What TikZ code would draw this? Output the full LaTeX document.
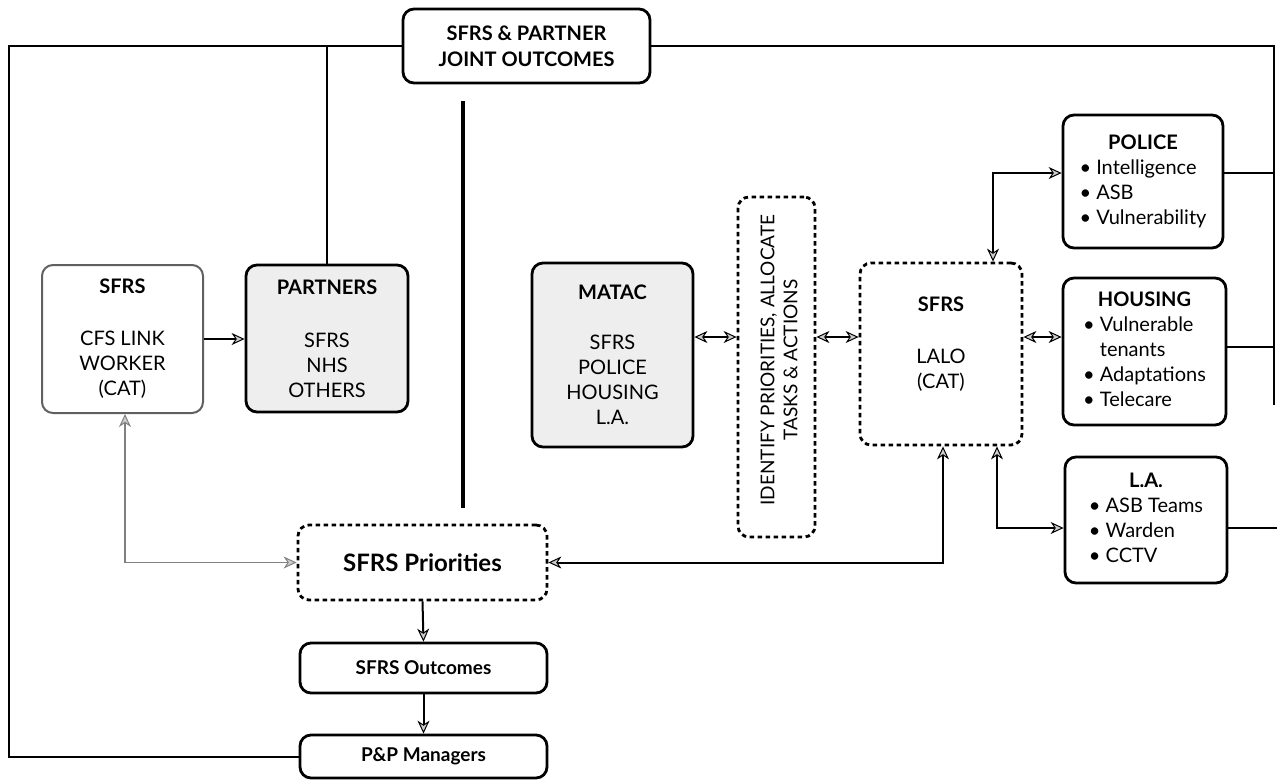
\documentclass[tikz,border=0pt]{standalone}
\usepackage{fontspec}
\setmainfont{Lato}
\usetikzlibrary{arrows.meta,calc}
\begin{document}
\begin{tikzpicture}[x=1pt,y=-1pt,
  >={Stealth[length=13pt,width=12pt,inset=4pt,fill=gray!40,line width=1pt]},
  box/.style={draw, line width=2.8pt, rounded corners=11pt, align=center, inner sep=0pt,
    font=\fontsize{20}{25}\selectfont},
  shadebox/.style={box, fill=gray!13},
  dotbox/.style={box, dash pattern=on 4.5pt off 3.5pt},
  conn/.style={line width=2pt},
  txt/.style={align=center, inner sep=0pt, font=\fontsize{20}{25}\selectfont}]
\useasboundingbox (0,0) rectangle (1277,780);

% nodes
\node[box, font=\fontsize{20}{26}\selectfont\bfseries, minimum width=247pt, minimum height=74pt] (joint) at (526.5,46) {SFRS \& PARTNER\\JOINT OUTCOMES};
\node[box, draw=gray!75!black, line width=2pt, minimum width=161pt, minimum height=148pt] (cfs) at (122.5,339)
  {\bfseries SFRS\\[27pt] CFS LINK\\ WORKER\\ (CAT)};
\node[shadebox, minimum width=162pt, minimum height=147pt] (partners) at (327,338.5)
  {\bfseries PARTNERS\\[28pt] SFRS\\ NHS\\ OTHERS};
\node[shadebox, minimum width=161pt, minimum height=184pt] (matac) at (612.5,355)
  {\bfseries MATAC\\[25pt] SFRS\\ POLICE\\ HOUSING\\ L.A.};
\node[dotbox, minimum width=77pt, minimum height=340pt] (idbox) at (776.5,367) {};
\node[txt, rotate=90, font=\fontsize{19}{23}\selectfont] (idtext) at (779,360) {IDENTIFY PRIORITIES, ALLOCATE\\TASKS \& ACTIONS};
\node[dotbox, minimum width=162pt, minimum height=182pt] (lalo) at (941,354) {};
\node[txt] (lalotext) at (941,344) {\bfseries SFRS\\[27pt] LALO\\ (CAT)};
\node[box, minimum width=160pt, minimum height=133pt] (police) at (1143,181.5)
  {\begin{tabular}{@{}l@{}}\multicolumn{1}{@{}c@{}}{\bfseries POLICE}\\ • Intelligence\\ • ASB\\ • Vulnerability\end{tabular}};
\node[box, minimum width=163pt, minimum height=147pt] (housing) at (1144.5,351.5)
  {\begin{tabular}{@{}l@{}}\multicolumn{1}{@{}c@{}}{\bfseries HOUSING}\\ • Vulnerable\\ \hphantom{•}\ tenants\\ • Adaptations\\ • Telecare\end{tabular}};
\node[box, minimum width=162pt, minimum height=126pt] (la) at (1146,520)
  {\begin{tabular}{@{}l@{}}\multicolumn{1}{@{}c@{}}{\bfseries L.A.}\\ • ASB Teams\\ • Warden\\ • CCTV\end{tabular}};
\node[dotbox, font=\fontsize{24}{28}\selectfont\bfseries, minimum width=249pt, minimum height=75pt] (prio) at (422.5,562.5) {SFRS Priorities};
\node[box, font=\fontsize{19}{24}\selectfont\bfseries, minimum width=247pt, minimum height=50pt] (outc) at (423.5,668) {SFRS Outcomes};
\node[box, font=\fontsize{19}{24}\selectfont\bfseries, minimum width=247pt, minimum height=43pt] (pp) at (423.5,756.5) {P\&P Managers};

% helper coordinates
\coordinate (lx) at (9,0);
\coordinate (rx) at (1274,405);
\coordinate (ay) at (0,337);
\coordinate (polr) at (1274,173);
\coordinate (housr) at (1274,347);
\coordinate (lar) at (1277,528);
\coordinate (dtop) at (463,101);
\coordinate (dbot) at (463,508);

% outer feedback lines
\draw[conn] (joint.west) -- (joint.west -| lx) |- (pp.west);
\draw[conn] (partners.north) -- (partners.north |- joint.west);
\draw[conn] (joint.east) -| (rx);
\draw[conn] ([yshift=8.5pt]police.east) -- (polr);
\draw[conn] ([yshift=4.5pt]housing.east) -- (housr);
\draw[conn] ([yshift=-8pt]la.east) -- (lar);

% divider
\draw[line width=3.5pt] (dtop) -- (dbot);

% arrows
\draw[conn,->] (cfs.east) -- (cfs.east -| partners.west);
\draw[conn,<->] (matac.east |- ay) -- (idbox.west |- ay);
\draw[conn,<->] (idbox.east |- ay) -- (lalo.west |- ay);
\draw[conn,<->] (lalo.east |- ay) -- (housing.west |- ay);
\draw[conn,<->] ([xshift=52pt]lalo.north) |- ([yshift=8.5pt]police.west);
\draw[conn,<->] ([xshift=56pt]lalo.south) |- ([yshift=-8pt]la.west);
\draw[conn,<->] (prio.east) -| ([xshift=2pt]lalo.south);
\draw[line width=1.6pt, gray, <->] ([xshift=2.5pt]cfs.south) |- (prio.west);
\draw[conn,->] (prio.south) -- (outc.north);
\draw[conn,->] (outc.south) -- (pp.north);
\end{tikzpicture}
\end{document}
